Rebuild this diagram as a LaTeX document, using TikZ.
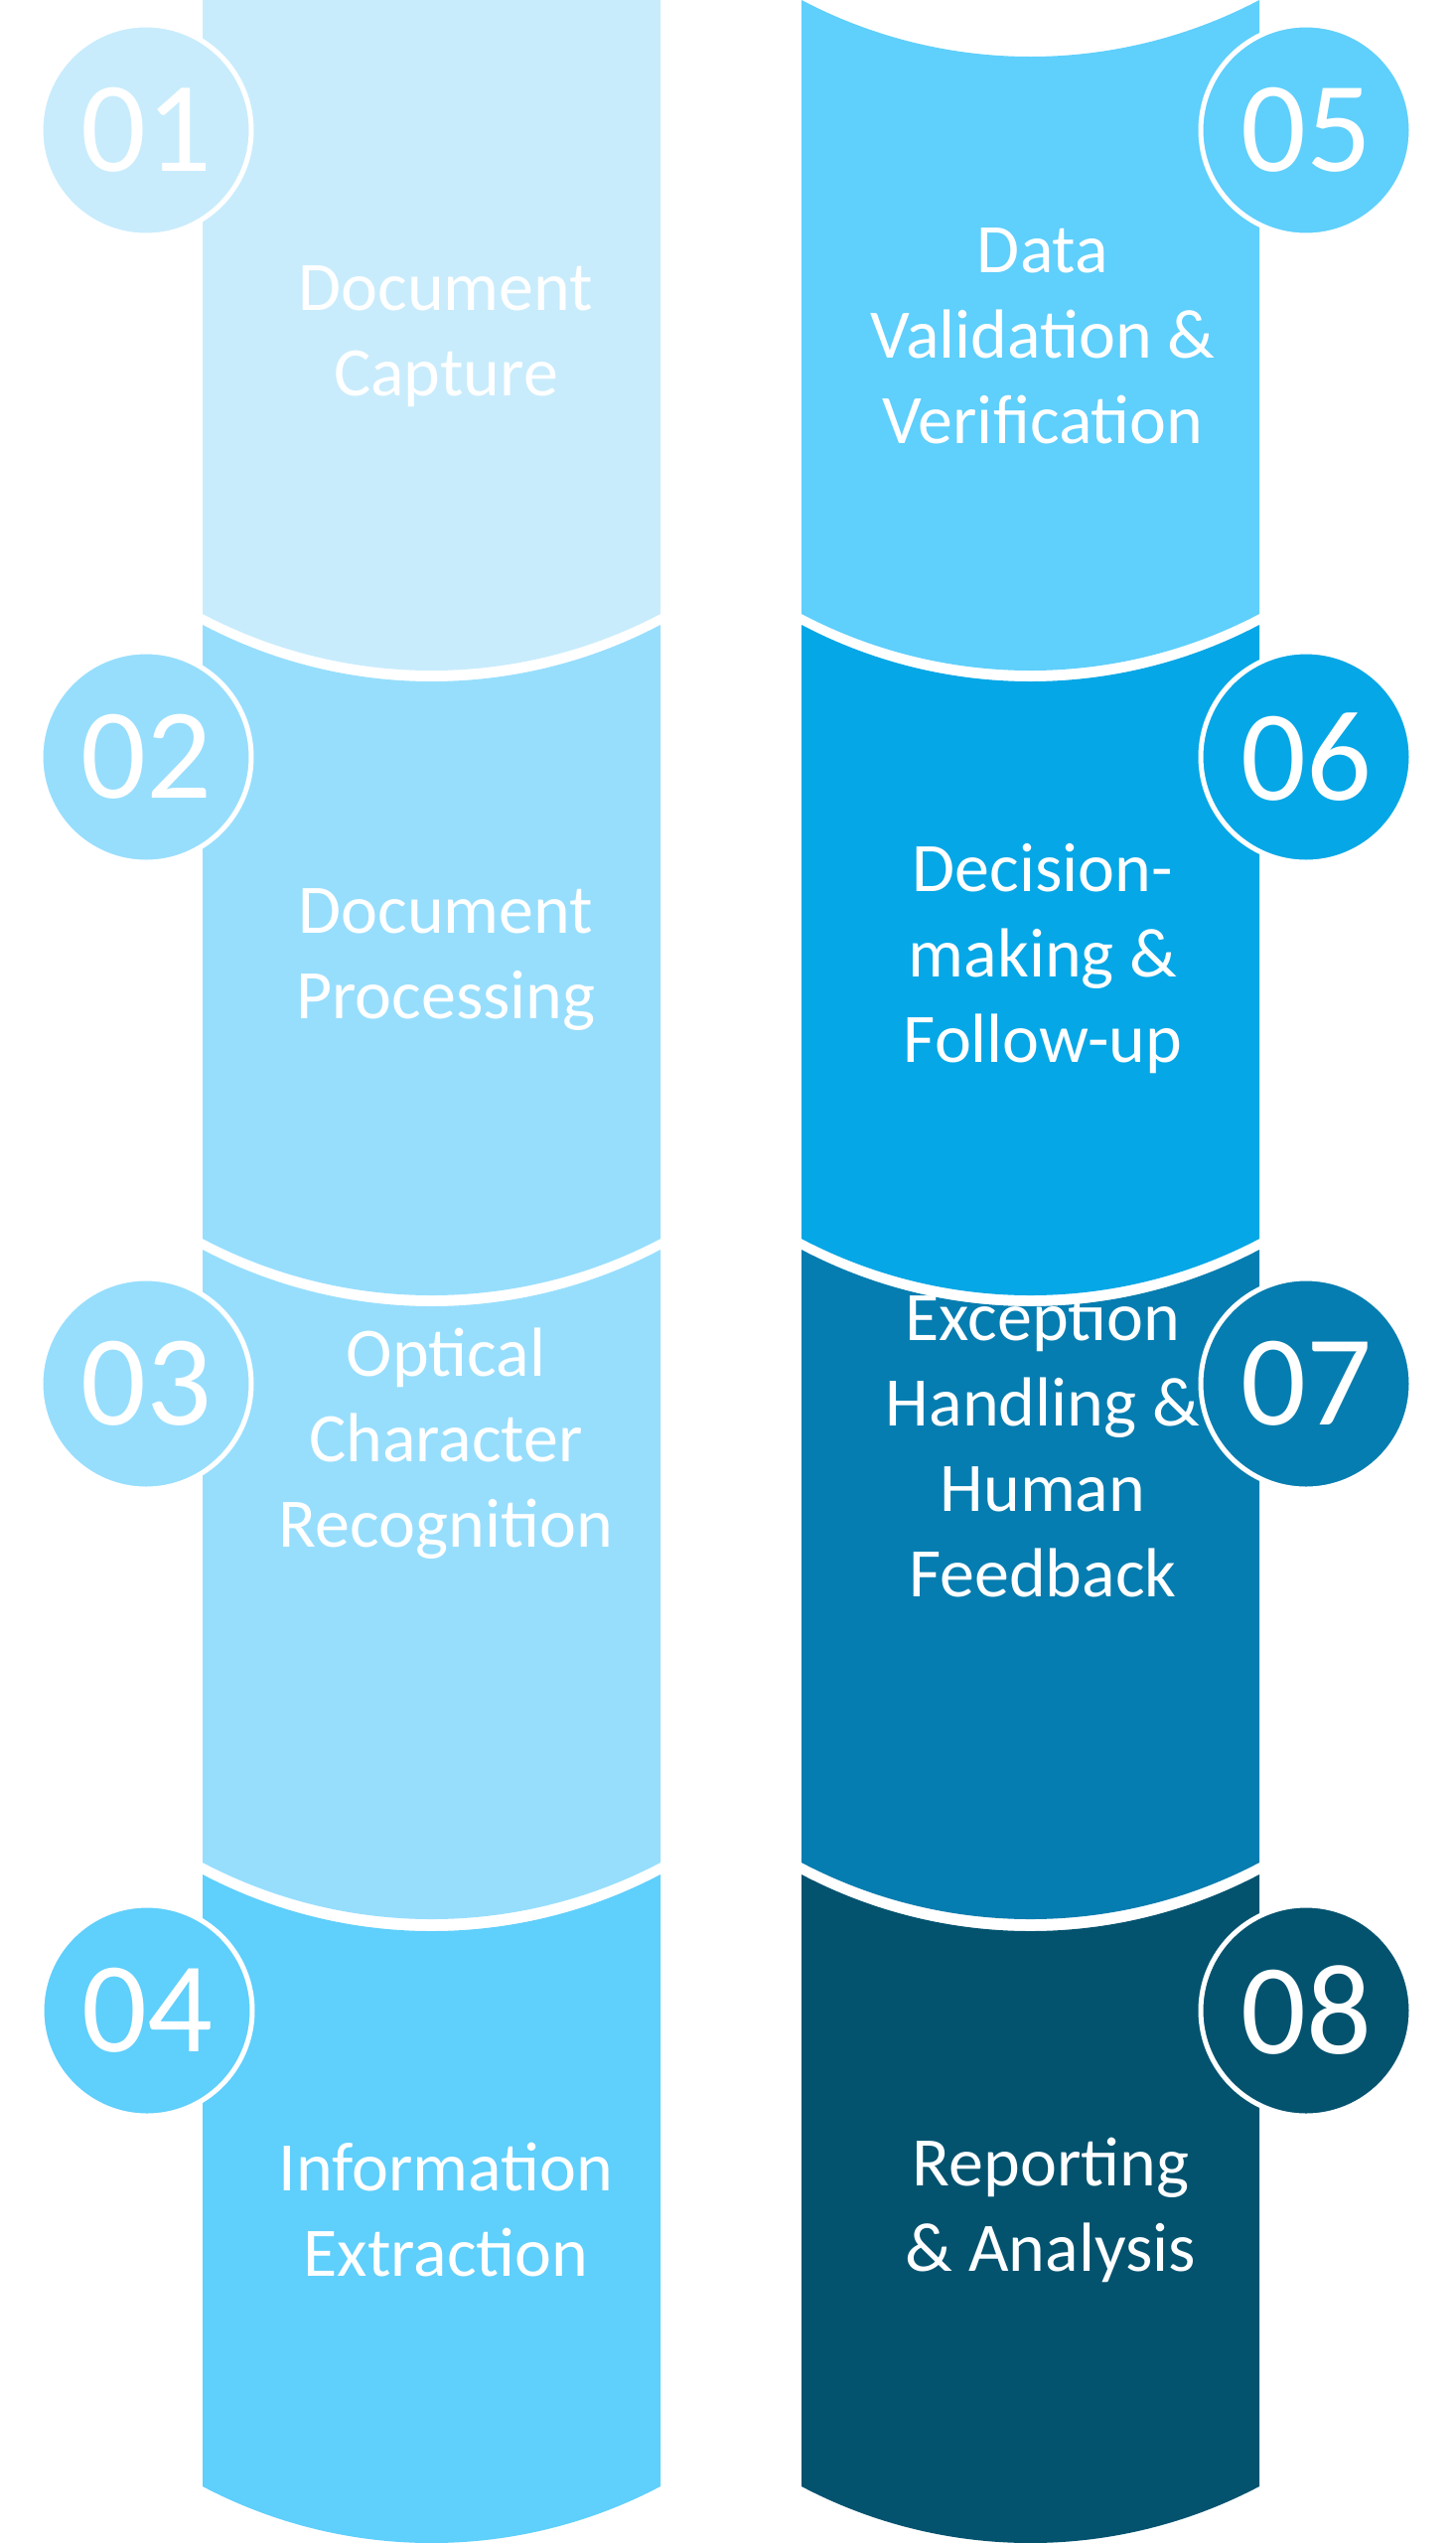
\documentclass[tikz,border=0pt]{standalone}
\usepackage{fontspec}
\setmainfont{Carlito}
\definecolor{cA}{HTML}{C8ECFC}
\definecolor{cB}{HTML}{97DEFD}
\definecolor{cC}{HTML}{5FCFFC}
\definecolor{cD}{HTML}{06A7E6}
\definecolor{cE}{HTML}{067DB0}
\definecolor{cF}{HTML}{03536F}
\begin{document}
\begin{tikzpicture}[x=1pt,y=-1pt,
  num/.style={circle,draw=white,line width=5pt,minimum size=212pt,inner sep=0pt,text=white,font=\fontsize{130}{130}\selectfont},
  lbl/.style={align=center,text=white,font=\fontsize{70}{86}\selectfont}]
\useasboundingbox (0,0) rectangle (1466,2560);
% segments: #1 x0, #2 top, #3 bottom, #4 colour, #5 arc top (1/0)
\def\segflat#1#2#3#4{\fill[#4] (#1,#2) -- ({#1+461},#2) -- ({#1+461},#3) .. controls ({#1+461-144.4},{#3+76}) and ({#1+144.4},{#3+76}) .. (#1,#3) -- cycle;}
\def\segarc#1#2#3#4{\fill[#4] (#1,#2) .. controls ({#1+144.4},{#2+76}) and ({#1+461-144.4},{#2+76}) .. ({#1+461},#2) -- ({#1+461},#3) .. controls ({#1+461-144.4},{#3+76}) and ({#1+144.4},{#3+76}) .. (#1,#3) -- cycle;}
\segflat{204}{0}{618}{cA}
\segarc{204}{629}{1247}{cB}
\segarc{204}{1258}{1875}{cB}
\segarc{204}{1887}{2503}{cC}
\segarc{807}{0}{618}{cC}
\segarc{807}{629}{1247}{cD}
\segarc{807}{1258}{1875}{cE}
\segarc{807}{1887}{2503}{cF}
% circles
\node[num,fill=cA] (n1) at (147,131) {01};
\node[num,fill=cB] (n2) at (147,762) {02};
\node[num,fill=cB] (n3) at (147,1393) {03};
\node[num,fill=cC] (n4) at (148,2024) {04};
\node[num,fill=cC] (n5) at (1315,131) {05};
\node[num,fill=cD] (n6) at (1315,762) {06};
\node[num,fill=cE] (n7) at (1315,1393) {07};
\node[num,fill=cF] (n8) at (1315,2024) {08};
% labels
\node[lbl] (t1) at (449,339) {Document\\Capture};
\node[lbl] (t2) at (449,966) {Document\\Processing};
\node[lbl] (t3) at (449,1453) {Optical\\Character\\Recognition};
\node[lbl] (t4) at (449,2225) {Information\\Extraction};
\node[lbl] (t5) at (1050,338) {Data\\Validation \&\\Verification};
\node[lbl] (t6) at (1050,965) {Decision-\\making \&\\Follow-up};
\node[lbl] (t7) at (1050,1455) {Exception\\Handling \&\\Human\\Feedback};
\node[lbl] (t8) at (1058,2225) {Reporting\\\& Analysis};
\end{tikzpicture}
\end{document}
